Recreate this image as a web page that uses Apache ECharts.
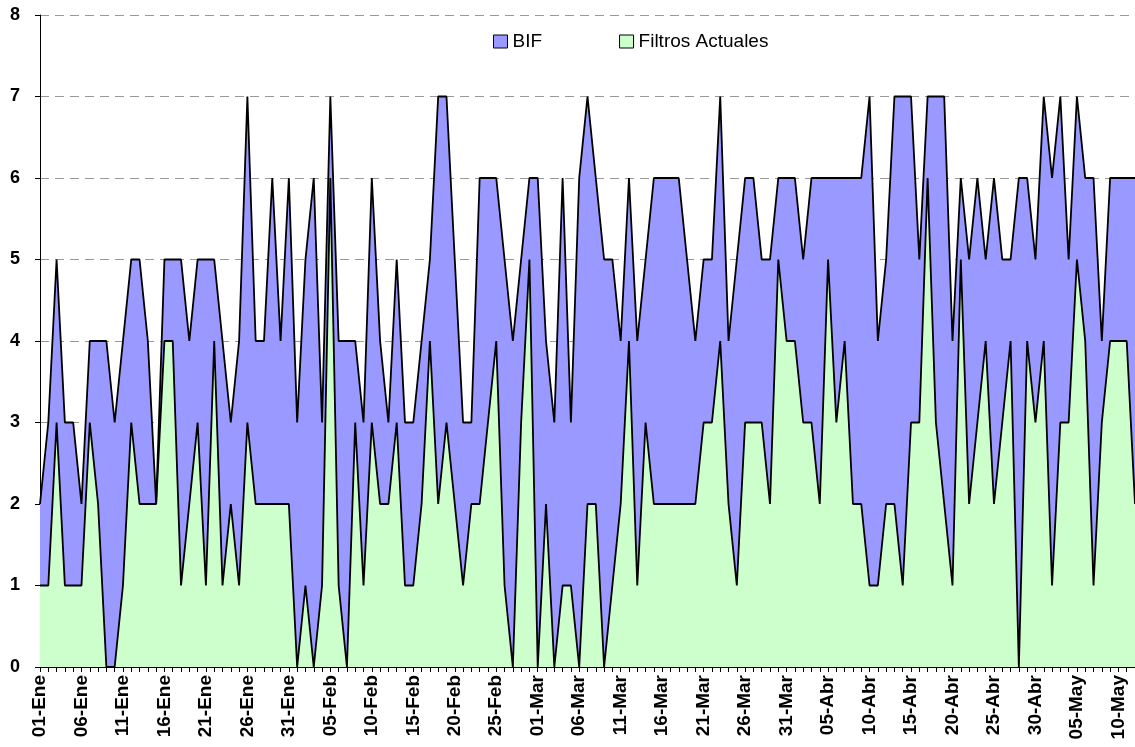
<!DOCTYPE html>
<html>
<head>
<meta charset="utf-8">
<script src="https://cdn.jsdelivr.net/npm/echarts@6/dist/echarts.min.js"></script>
<style>
  html, body { margin: 0; padding: 0; background: #fff; }
  #chart { width: 1135px; height: 747px; }
</style>
</head>
<body>
<div id="chart"></div>
<script>
// meses del eje (año bisiesto: 29 días en febrero)
const monthNames = ['Ene', 'Feb', 'Mar', 'Abr', 'May'];
const monthDays = [31, 29, 31, 30, 31];
const totalDays = 133; // 01-Ene .. 12-May

let days = [];
for (let m = 0; m < monthNames.length && days.length < totalDays; m++) {
    for (let d = 1; d <= monthDays[m] && days.length < totalDays; d++) {
        days.push((d < 10 ? '0' + d : '' + d) + '-' + monthNames[m]);
    }
}

const bif = [
    2, 3, 5, 3, 3, 2, 4, 4, 4, 3, 4, 5, 5, 4, 2, 5, 5, 5, 4, 5,
    5, 5, 4, 3, 4, 7, 4, 4, 6, 4, 6, 3, 5, 6, 3, 7, 4, 4, 4, 3,
    6, 4, 3, 5, 3, 3, 4, 5, 7, 7, 5, 3, 3, 6, 6, 6, 5, 4, 5, 6,
    6, 4, 3, 6, 3, 6, 7, 6, 5, 5, 4, 6, 4, 5, 6, 6, 6, 6, 5, 4,
    5, 5, 7, 4, 5, 6, 6, 5, 5, 6, 6, 6, 5, 6, 6, 6, 6, 6, 6, 6,
    7, 4, 5, 7, 7, 7, 5, 7, 7, 7, 4, 6, 5, 6, 5, 6, 5, 5, 6, 6,
    5, 7, 6, 7, 5, 7, 6, 6, 4, 6, 6, 6, 6
];

const filtros = [
    1, 1, 3, 1, 1, 1, 3, 2, 0, 0, 1, 3, 2, 2, 2, 4, 4, 1, 2, 3,
    1, 4, 1, 2, 1, 3, 2, 2, 2, 2, 2, 0, 1, 0, 1, 6, 1, 0, 3, 1,
    3, 2, 2, 3, 1, 1, 2, 4, 2, 3, 2, 1, 2, 2, 3, 4, 1, 0, 3, 5,
    0, 2, 0, 1, 1, 0, 2, 2, 0, 1, 2, 4, 1, 3, 2, 2, 2, 2, 2, 2,
    3, 3, 4, 2, 1, 3, 3, 3, 2, 5, 4, 4, 3, 3, 2, 5, 3, 4, 2, 2,
    1, 1, 2, 2, 1, 3, 3, 6, 3, 2, 1, 5, 2, 3, 4, 2, 3, 4, 0, 4,
    3, 4, 1, 3, 3, 5, 4, 1, 3, 4, 4, 4, 2
];

const seriesNames = ['BIF', 'Filtros Actuales'];
const seriesColors = ['#9999FF', '#CCFFCC'];

const myChart = echarts.init(document.getElementById('chart'));

const option = {
    animation: false,
    textStyle: {
        fontFamily: 'Liberation Sans, Arial, sans-serif',
        color: '#000'
    },
    legend: {
        left: 488,
        top: 27,
        itemWidth: 14,
        itemHeight: 13,
        itemGap: 77,
        icon: 'rect',
        textStyle: {
            fontSize: 19,
            color: '#000'
        },
        data: seriesNames.map((n, i) => ({
            name: n,
            itemStyle: { color: seriesColors[i], borderColor: '#000', borderWidth: 1 }
        }))
    },
    grid: {
        left: 40,
        right: 0,
        top: 15,
        bottom: 80,
        containLabel: false
    },
    xAxis: {
        type: 'category',
        data: days,
        boundaryGap: false,
        axisLine: { lineStyle: { color: '#000', width: 1 } },
        axisTick: {
            interval: 0,
            length: 5,
            lineStyle: { color: '#000' }
        },
        axisLabel: {
            interval: 4,
            rotate: 90,
            margin: 8,
            fontSize: 19,
            fontWeight: 'bold',
            color: '#000'
        },
        splitLine: { show: false }
    },
    yAxis: {
        type: 'value',
        min: 0,
        max: 8,
        interval: 1,
        axisLine: { show: true, lineStyle: { color: '#000', width: 1 } },
        axisTick: { show: true, length: 5, lineStyle: { color: '#000' } },
        axisLabel: {
            margin: 20,
            fontSize: 18,
            fontWeight: 'bold',
            color: '#000'
        },
        splitLine: {
            show: true,
            lineStyle: { color: '#999', type: [9, 6], width: 1 }
        }
    },
    series: [
        {
            name: seriesNames[0],
            type: 'line',
            data: bif,
            symbol: 'none',
            itemStyle: { color: seriesColors[0] },
            lineStyle: { color: '#000', width: 1.8 },
            areaStyle: { color: seriesColors[0], opacity: 1 }
        },
        {
            name: seriesNames[1],
            type: 'line',
            data: filtros,
            symbol: 'none',
            itemStyle: { color: seriesColors[1] },
            lineStyle: { color: '#000', width: 1.8 },
            areaStyle: { color: seriesColors[1], opacity: 1 }
        }
    ]
};

myChart.setOption(option);
</script>
</body>
</html>
